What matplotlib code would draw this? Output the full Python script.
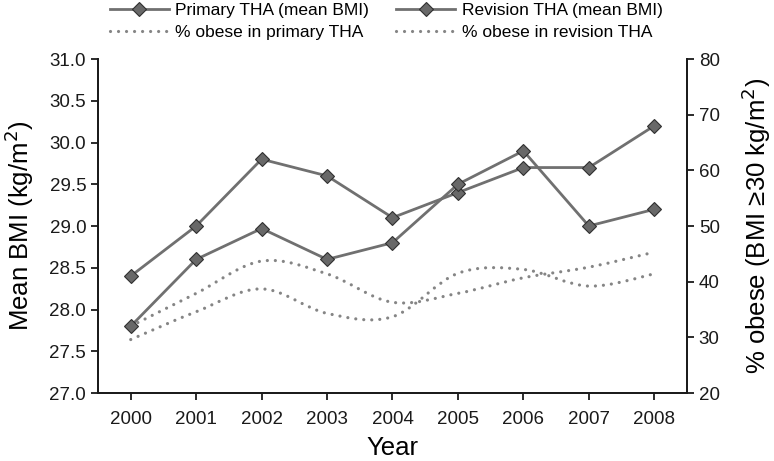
import matplotlib
matplotlib.use("Agg")
import matplotlib.pyplot as plt
from matplotlib.path import Path
from matplotlib.patches import PathPatch
from matplotlib.lines import Line2D
import numpy as np

plt.rcParams['font.family'] = ['Liberation Sans', 'DejaVu Sans']

years = [2000, 2001, 2002, 2003, 2004, 2005, 2006, 2007, 2008]
bmi_primary = [28.4, 29.0, 29.8, 29.6, 29.1, 29.4, 29.7, 29.7, 30.2]
bmi_revision = [27.8, 28.6, 28.97, 28.6, 28.8, 29.5, 29.9, 29.0, 29.2]
obese_primary = [32.0, 37.9, 43.7, 41.4, 36.3, 37.9, 40.7, 42.6, 45.3]
obese_revision = [29.6, 34.6, 38.7, 34.3, 33.7, 41.5, 42.2, 39.2, 41.4]

line_col = '#707070'
dot_col = '#858585'

fig = plt.figure(figsize=(7.74, 4.61), dpi=100)
ax = fig.add_axes([98/774, 68/461, (687-98)/774, (393-59)/461])
ax2 = ax.twinx()


def smooth_path(xs, ys, t=1/6):
    xs = np.asarray(xs, float); ys = np.asarray(ys, float)
    n = len(xs)
    verts = [(xs[0], ys[0])]
    codes = [Path.MOVETO]
    for i in range(n - 1):
        p0 = (xs[max(i-1, 0)], ys[max(i-1, 0)])
        p1 = (xs[i], ys[i])
        p2 = (xs[i+1], ys[i+1])
        p3 = (xs[min(i+2, n-1)], ys[min(i+2, n-1)])
        c1 = (p1[0] + (p2[0]-p0[0])*t, p1[1] + (p2[1]-p0[1])*t)
        c2 = (p2[0] - (p3[0]-p1[0])*t, p2[1] - (p3[1]-p1[1])*t)
        verts += [c1, c2, p2]
        codes += [Path.CURVE4]*3
    return Path(verts, codes)

dot_style = dict(linestyle=(0, (0.01, 2.5)), linewidth=2.3, color=dot_col)
for ser in (obese_primary, obese_revision):
    patch = PathPatch(smooth_path(years, ser), fill=False, capstyle='round',
                      joinstyle='round', **dot_style)
    ax2.add_patch(patch)

mk = dict(marker='D', markersize=7.5, markerfacecolor='#686868',
          markeredgecolor='#303030', markeredgewidth=0.8)
ax.plot(years, bmi_primary, color=line_col, linewidth=2.0, zorder=3, **mk)
ax.plot(years, bmi_revision, color=line_col, linewidth=2.0, zorder=3, **mk)
ax.set_zorder(ax2.get_zorder() + 1)
ax.patch.set_visible(False)

ax.set_xlim(1999.5, 2008.5)
ax.set_ylim(27.0, 31.0)
ax2.set_ylim(20, 80)
ax.set_xticks(years)
ax.set_yticks(np.arange(27.0, 31.01, 0.5))
ax.set_yticklabels([f'{v:.1f}' for v in np.arange(27.0, 31.01, 0.5)])
ax2.set_yticks(range(20, 81, 10))

for a in (ax, ax2):
    a.spines['top'].set_visible(False)
    for s in a.spines.values():
        s.set_linewidth(1.3)
        s.set_color('#1a1a1a')
    a.tick_params(axis='both', labelsize=13.5, length=5, width=1.3,
                  colors='#1a1a1a', direction='out')
ax.tick_params(axis='x', pad=8)

ax.set_xlabel('Year', fontsize=18.5, labelpad=6)
ax.set_ylabel('Mean BMI (kg/m$^2$)', fontsize=18.5, labelpad=10)
ax2.set_ylabel('% obese (BMI \u226530 kg/m$^2$)', fontsize=18.5, labelpad=14)

handles = [
    Line2D([], [], color=line_col, linewidth=2.0, **mk),
    Line2D([], [], color=line_col, linewidth=2.0, **mk),
    Line2D([], [], solid_capstyle='round', dash_capstyle='round', **dot_style),
    Line2D([], [], solid_capstyle='round', dash_capstyle='round', **dot_style),
]
labels = ['Primary THA (mean BMI)', '% obese in primary THA',
          'Revision THA (mean BMI)', '% obese in revision THA']
handles = [handles[0], handles[2], handles[1], handles[3]]
fig.legend(handles, labels, ncol=2, loc='upper left',
           bbox_to_anchor=(101/774, 1.012), frameon=False,
           prop={'size': 12.5},
           handlelength=3.4, handletextpad=0.35, columnspacing=1.6,
           labelspacing=0.4, borderpad=0.0)

fig.savefig('out.png', dpi=100)
